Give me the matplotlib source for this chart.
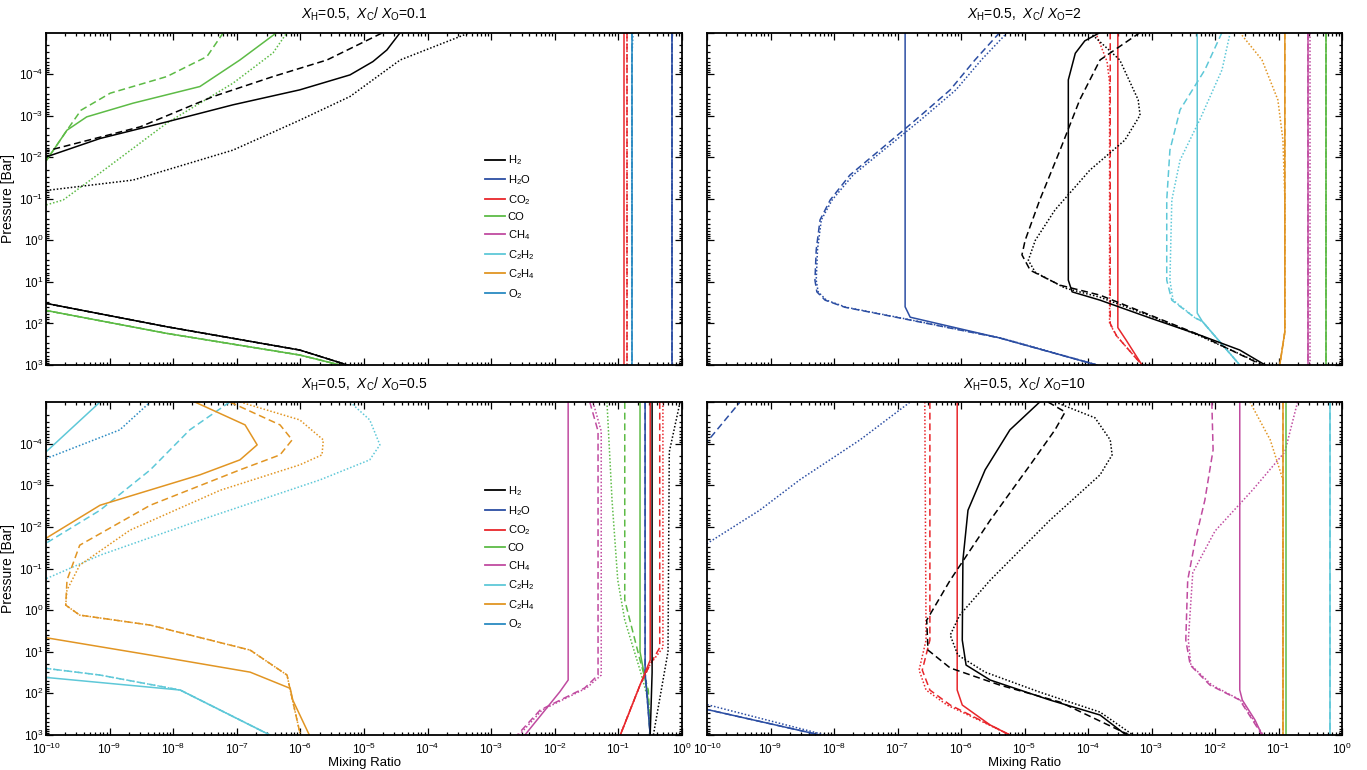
import numpy as np
import matplotlib
matplotlib.use('Agg')
import matplotlib.pyplot as plt
from matplotlib.ticker import LogLocator, NullFormatter, FixedLocator

plt.rcParams['font.family'] = ['Liberation Sans', 'DejaVu Sans']
plt.rcParams['mathtext.fontset'] = 'custom'
plt.rcParams['mathtext.rm'] = 'Liberation Sans'
plt.rcParams['mathtext.it'] = 'Liberation Sans:italic'
plt.rcParams['mathtext.default'] = 'regular'

N = float('nan')

# ---- species ----
species = ['H2', 'H2O', 'CO2', 'CO', 'CH4', 'C2H2', 'C2H4', 'O2']
species_labels = ['H$_2$', 'H$_2$O', 'CO$_2$', 'CO', 'CH$_4$', 'C$_2$H$_2$', 'C$_2$H$_4$', 'O$_2$']
species_colors = ['#000000', '#2c4ea3', '#e8262b', '#5dbb46', '#c04ba0', '#5ec8d8', '#e19523', '#2a8ac2']
panel_titles = [r'$\mathit{X}_{\rm H}$=0.5,  $\mathit{X}_{\rm C}$/ $\mathit{X}_{\rm O}$=0.1',
                r'$\mathit{X}_{\rm H}$=0.5,  $\mathit{X}_{\rm C}$/ $\mathit{X}_{\rm O}$=2',
                r'$\mathit{X}_{\rm H}$=0.5,  $\mathit{X}_{\rm C}$/ $\mathit{X}_{\rm O}$=0.5',
                r'$\mathit{X}_{\rm H}$=0.5,  $\mathit{X}_{\rm C}$/ $\mathit{X}_{\rm O}$=10']
x_tick_exponents = [-10, -9, -8, -7, -6, -5, -4, -3, -2, -1, 0]
y_tick_exponents = [-4, -3, -2, -1, 0, 1, 2, 3]

# All curve data: (log10 mixing ratio list, log10 pressure [bar] list)
# ===== Panel A: C/O = 0.1 =====
a_h2_solid = ([-10.05, -9.99, -9.15, -8.10, -7.06, -6.01, -5.22, -4.86, -4.64, -4.43, N, -10.05, -9.99, -8.10, -6.01, -5.22],
              [-1.99, -2.01, -2.45, -2.85, -3.26, -3.62, -3.98, -4.30, -4.58, -5.0, N, 1.50, 1.52, 2.08, 2.64, 3.02])
a_h2_dash = ([-10.05, -9.94, -8.52, -7.37, -6.43, -5.58, -4.70, N, -10.05, -9.99, -8.10, -6.01, -5.22],
             [-2.15, -2.17, -2.73, -3.46, -3.94, -4.34, -5.0, N, 1.50, 1.52, 2.08, 2.64, 3.02])
a_h2_dot = ([-10.05, -9.94, -8.63, -7.06, -6.01, -5.22, -4.43, -3.33, N, -10.05, -9.99, -8.10, -6.01, -5.22],
            [-1.19, -1.21, -1.45, -2.17, -2.89, -3.46, -4.34, -5.0, N, 1.50, 1.52, 2.08, 2.64, 3.02])
a_co_solid = ([-10.05, -9.99, -9.67, -9.36, -8.63, -7.58, -6.95, -6.37, N, -10.05, -9.99, -8.10, -6.01, -5.27],
              [-1.90, -1.93, -2.65, -2.97, -3.30, -3.70, -4.34, -5.0, N, 1.67, 1.69, 2.24, 2.76, 3.04])
a_co_dash = ([-10.05, -9.99, -9.67, -9.45, -8.99, -8.10, -7.47, -7.21, N, -10.05, -9.99, -8.10, -6.01, -5.27],
             [-1.90, -1.93, -2.65, -3.13, -3.54, -3.94, -4.42, -5.0, N, 1.67, 1.69, 2.24, 2.76, 3.04])
a_co_dot = ([-10.05, -10.0, -9.73, -9.15, -8.10, -7.06, -6.43, -6.21, N, -10.05, -9.99, -8.10, -6.01, -5.27],
            [-0.84, -0.85, -0.97, -1.62, -2.82, -3.78, -4.51, -5.0, N, 1.67, 1.69, 2.24, 2.76, 3.04])
a_co2_solid = ([-0.91, -0.91], [-5.0, 3.0])
a_co2_dash = ([-0.87, -0.87], [-5.0, 3.0])
a_co2_dot = ([-0.87, -0.87], [-5.0, 3.0])
a_h2o_all = ([-0.16, -0.16], [-5.0, 3.0])
a_o2_solid = ([-0.79, -0.79], [-5.0, 3.0])
a_o2_dot = ([-0.77, -0.79, -0.79], [-5.0, -4.3, 3.0])

# ===== Panel B: C/O = 2 =====
b_h2o_solid = ([-6.88, -6.88, -6.80, -5.39, -3.86], [-5.0, 1.60, 1.85, 2.35, 3.0])
b_h2o_dash = ([-5.39, -5.78, -6.17, -6.72, -7.28, -7.75, -8.06, -8.22, -8.28, -8.30, -8.27, -8.14, -7.83, -6.96, -5.39, -3.86],
              [-5.0, -4.34, -3.62, -2.89, -2.17, -1.57, -0.97, -0.49, 0.23, 0.96, 1.24, 1.44, 1.61, 1.87, 2.35, 3.0])
b_h2o_dot = ([-5.27, -5.68, -6.08, -6.64, -7.22, -7.70, -8.03, -8.20, -8.26, -8.28, -8.25, -8.12, -7.81, -6.94, -5.37, -3.85],
             [-5.0, -4.34, -3.62, -2.89, -2.17, -1.57, -0.97, -0.49, 0.23, 0.96, 1.24, 1.44, 1.61, 1.87, 2.35, 3.0])
b_h2_solid = ([-3.81, -4.05, -4.20, -4.31, -4.31, -4.25, -3.81, -3.02, -2.24, -1.61, -1.21],
              [-5.0, -4.80, -4.50, -3.86, 0.96, 1.24, 1.44, 1.87, 2.28, 2.64, 3.0])
b_h2_dash = ([-3.18, -3.81, -4.13, -4.44, -4.76, -4.99, -5.04, -4.91, -4.44, -3.81, -3.02, -2.24, -1.26],
             [-5.0, -4.34, -3.38, -2.17, -0.97, 0.0, 0.35, 0.72, 1.08, 1.32, 1.80, 2.28, 3.0])
b_h2_dot = ([-3.97, -3.50, -3.21, -3.18, -3.42, -3.97, -4.52, -4.83, -4.94, -4.83, -4.36, -3.81, -3.02, -2.24, -1.23],
            [-5.0, -4.34, -3.38, -3.01, -2.41, -1.69, -0.73, 0.0, 0.48, 0.77, 1.15, 1.37, 1.82, 2.30, 3.0])
b_co2_solid = ([-3.53, -3.53, -3.40, -3.15], [-5.0, 2.1, 2.4, 3.0])
b_co2_dash = ([-3.65, -3.65, -3.55, -3.15], [-5.0, 2.0, 2.3, 3.0])
b_co2_dot = ([-3.88, -3.70, -3.66, -3.66, -3.55, -3.15], [-5.0, -4.3, -3.8, 2.0, 2.3, 3.0])
b_c2h2_solid = ([-2.28, -2.28, -2.20, -1.61], [-5.0, 1.75, 1.95, 3.0])
b_c2h2_dash = ([-1.89, -2.16, -2.55, -2.71, -2.76, -2.76, -2.68, -2.31, -2.20, -1.61],
               [-5.0, -4.10, -3.14, -2.17, -0.97, 0.96, 1.44, 1.87, 1.95, 3.0])
b_c2h2_dot = ([-1.76, -1.89, -2.24, -2.55, -2.68, -2.71, -2.66, -2.31, -2.20, -1.61],
              [-5.0, -4.10, -2.90, -1.93, -0.97, 0.96, 1.44, 1.87, 1.95, 3.0])
b_c2h4_solid = ([-0.90, -0.90, -0.98], [-5.0, 2.2, 3.0])
b_c2h4_dot = ([-1.61, -1.26, -1.01, -0.93, -0.90, -0.90, -0.98], [-5.0, -4.34, -3.38, -2.41, -1.0, 2.2, 3.0])
b_ch4_solid = ([-0.535, -0.535], [-5.0, 3.0])
b_ch4_dot = ([-0.50, -0.50], [-5.0, 3.0])
b_co_all = ([-0.25, -0.25], [-5.0, 3.0])

# ===== Panel C: C/O = 0.5 =====
c_c2h2_solid = ([-9.15, -10.05, N, -10.05, -7.89, -6.48], [-5.0, -3.73, N, 1.61, 1.92, 3.0])
c_c2h2_dash = ([-7.11, -7.74, -8.36, -9.15, -10.05, N, -10.05, -9.15, -7.89, -6.48],
               [-5.0, -4.33, -3.37, -2.40, -1.56, N, 1.39, 1.56, 1.92, 3.0])
c_c2h2_dot = ([-5.22, -4.91, -4.75, -4.91, -5.69, -7.58, -9.15, -10.05, N, -10.05, -9.15, -7.89, -6.48],
              [-5.0, -4.57, -3.97, -3.61, -3.13, -2.16, -1.32, -0.72, N, 1.39, 1.56, 1.92, 3.0])
c_c2h4_solid = ([-7.66, -6.87, -6.68, -6.95, -7.58, -9.15, -10.05, N, -10.05, -8.36, -6.79, -6.16, -6.12, -5.86],
                [-5.0, -4.45, -3.97, -3.61, -3.25, -2.52, -1.68, N, 0.65, 1.08, 1.49, 1.88, 2.16, 3.0])
c_c2h4_dash = ([-7.11, -6.32, -6.13, -6.32, -6.95, -8.36, -9.47, -9.67, -9.69, -9.47, -8.36, -6.79, -6.21, -6.16, -6.0],
               [-5.0, -4.45, -4.09, -3.73, -3.37, -2.52, -1.56, -0.72, -0.12, 0.12, 0.36, 0.96, 1.56, 1.92, 3.0])
c_c2h4_dot = ([-6.95, -6.01, -5.64, -5.66, -6.01, -7.26, -8.68, -9.47, -9.67, -9.69, -9.47, -8.36, -6.79, -6.21, -6.16, -6.0],
              [-5.0, -4.57, -4.09, -3.73, -3.49, -2.88, -1.92, -1.08, -0.48, -0.12, 0.12, 0.36, 0.96, 1.56, 1.92, 3.0])
c_ch4_solid = ([-1.79, -1.79, -1.92, -2.47], [-5.0, 1.68, 1.96, 3.0])
c_ch4_dash = ([-1.45, -1.32, -1.32, -1.53, -2.23, -2.59], [-5.0, -4.3, 1.56, 1.87, 2.40, 3.0])
c_ch4_dot = ([-1.40, -1.27, -1.27, -1.50, -2.20, -2.56], [-5.0, -4.3, 1.56, 1.87, 2.40, 3.0])
c_co_solid = ([-0.66, -0.66, -0.55, -0.50], [-5.0, 1.0, 1.9, 3.0])
c_co_dash = ([-0.90, -0.90, -0.66, -0.53, -0.50], [-5.0, -0.24, 1.20, 1.92, 3.0])
c_co_dot = ([-1.18, -1.10, -1.01, -0.90, -0.66, -0.53, -0.50], [-5.0, -2.64, -0.72, 0.24, 1.44, 2.16, 3.0])
c_co2_solid = ([-0.50, -0.50, -0.66, -0.97], [-5.0, 1.20, 1.80, 3.0])
c_co2_dash = ([-0.35, -0.35, -0.50, -0.66, -0.97], [-5.0, 0.9, 1.3, 1.80, 3.0])
c_co2_dot = ([-0.30, -0.30, -0.50, -0.66, -0.97], [-5.0, 0.9, 1.3, 1.80, 3.0])
c_h2o_all = ([-0.58, -0.58, -0.50], [-5.0, 1.5, 3.0])
c_h2_solid = ([-0.47, -0.47, -0.50], [-5.0, 1.5, 3.0])
c_h2_dot = ([-0.03, -0.20, -0.22, -0.45], [-5.0, -3.8, 1.0, 3.0])
c_o2_dot = ([-10.05, -8.84, -8.36], [-3.61, -4.33, -5.0])

# ===== Panel D: C/O = 10 =====
d_h2o_solid = ([-10.05, -8.22], [2.37, 3.0])
d_h2o_dash = ([-10.05, -9.48, N, -10.05, -8.22], [-3.95, -5.0, N, 2.37, 3.0])
d_h2o_dot = ([-10.05, -9.17, -8.54, -7.59, -6.80, N, -10.05, -8.14], [-1.55, -2.40, -3.13, -4.09, -5.0, N, 2.25, 3.0])
d_co2_solid = ([-6.06, -6.06, -5.98, -5.54, -5.23], [-5.0, 1.92, 2.28, 2.76, 3.0])
d_co2_dash = ([-6.49, -6.49, -6.61, -6.49, -6.17, -5.70, -5.23], [-5.0, 0.72, 1.44, 1.92, 2.28, 2.64, 3.0])
d_co2_dot = ([-6.57, -6.55, -6.66, -6.55, -6.22, -5.72, -5.23], [-5.0, 0.72, 1.44, 1.92, 2.28, 2.64, 3.0])
d_h2_solid = ([-4.76, -5.23, -5.62, -5.89, -5.97, -5.98, -5.92, -5.54, -4.60, -3.81, -3.40],
              [-5.0, -4.33, -3.37, -2.40, -1.20, 0.72, 1.32, 1.68, 2.16, 2.52, 3.0])
d_h2_dash = ([-4.63, -4.36, -4.52, -4.91, -5.54, -6.17, -6.54, -6.52, -6.17, -5.39, -4.44, -3.35],
             [-5.0, -4.76, -4.33, -3.49, -2.16, -0.72, 0.24, 0.96, 1.39, 1.80, 2.21, 3.0])
d_h2_dot = ([-4.52, -3.89, -3.65, -3.62, -3.81, -4.60, -5.54, -6.02, -6.17, -6.05, -5.62, -4.76, -3.81, -3.29],
            [-5.0, -4.62, -4.09, -3.73, -3.25, -2.16, -0.72, 0.12, 0.60, 1.08, 1.49, 1.97, 2.45, 3.0])
d_ch4_solid = ([-1.61, -1.61, -1.57, -1.37, -1.26], [-5.0, 1.92, 2.16, 2.64, 3.0])
d_ch4_dash = ([-2.05, -2.03, -2.16, -2.31, -2.43, -2.46, -2.39, -2.08, -1.61, -1.26],
              [-5.0, -3.85, -2.64, -1.68, -0.72, 0.72, 1.32, 1.80, 2.16, 3.0])
d_ch4_dot = ([-0.70, -0.90, -1.40, -2.00, -2.35, -2.42, -2.38, -2.05, -1.60, -1.24],
             [-5.0, -3.8, -2.9, -1.9, -0.9, 0.72, 1.32, 1.80, 2.16, 3.0])
d_c2h4_solid = ([-0.93, -0.93], [-5.0, 3.0])
d_c2h4_dot = ([-1.45, -1.13, -0.93, -0.93], [-5.0, -4.09, -3.13, 3.0])
d_co_all = ([-0.88, -0.88], [-5.0, 3.0])
d_c2h2_all = ([-0.19, -0.19], [-5.0, 3.0])

SOLID, DASH, DOT = '-', (0, (4.5, 2.5)), (0, (1, 1.3))

panels = [
    [('CO2', SOLID, a_co2_solid), ('CO2', DASH, a_co2_dash), ('CO2', DOT, a_co2_dot),
     ('O2', SOLID, a_o2_solid), ('O2', DASH, a_o2_solid), ('O2', DOT, a_o2_dot),
     ('H2O', SOLID, a_h2o_all), ('H2O', DASH, a_h2o_all), ('H2O', DOT, a_h2o_all),
     ('CO', SOLID, a_co_solid), ('CO', DASH, a_co_dash), ('CO', DOT, a_co_dot),
     ('H2', SOLID, a_h2_solid), ('H2', DASH, a_h2_dash), ('H2', DOT, a_h2_dot)],
    [('H2O', SOLID, b_h2o_solid), ('H2O', DASH, b_h2o_dash), ('H2O', DOT, b_h2o_dot),
     ('CO2', SOLID, b_co2_solid), ('CO2', DASH, b_co2_dash), ('CO2', DOT, b_co2_dot),
     ('C2H2', SOLID, b_c2h2_solid), ('C2H2', DASH, b_c2h2_dash), ('C2H2', DOT, b_c2h2_dot),
     ('C2H4', SOLID, b_c2h4_solid), ('C2H4', DASH, b_c2h4_solid), ('C2H4', DOT, b_c2h4_dot),
     ('CH4', SOLID, b_ch4_solid), ('CH4', DASH, b_ch4_solid), ('CH4', DOT, b_ch4_dot),
     ('CO', SOLID, b_co_all), ('CO', DASH, b_co_all), ('CO', DOT, b_co_all),
     ('H2', SOLID, b_h2_solid), ('H2', DASH, b_h2_dash), ('H2', DOT, b_h2_dot)],
    [('C2H2', SOLID, c_c2h2_solid), ('C2H2', DASH, c_c2h2_dash), ('C2H2', DOT, c_c2h2_dot),
     ('C2H4', SOLID, c_c2h4_solid), ('C2H4', DASH, c_c2h4_dash), ('C2H4', DOT, c_c2h4_dot),
     ('O2', DOT, c_o2_dot),
     ('CH4', SOLID, c_ch4_solid), ('CH4', DASH, c_ch4_dash), ('CH4', DOT, c_ch4_dot),
     ('CO', SOLID, c_co_solid), ('CO', DASH, c_co_dash), ('CO', DOT, c_co_dot),
     ('H2O', SOLID, c_h2o_all), ('H2O', DASH, c_h2o_all),
     ('CO2', SOLID, c_co2_solid), ('CO2', DASH, c_co2_dash), ('CO2', DOT, c_co2_dot),
     ('H2', SOLID, c_h2_solid), ('H2', DOT, c_h2_dot)],
    [('H2O', SOLID, d_h2o_solid), ('H2O', DASH, d_h2o_dash), ('H2O', DOT, d_h2o_dot),
     ('CO2', SOLID, d_co2_solid), ('CO2', DASH, d_co2_dash), ('CO2', DOT, d_co2_dot),
     ('H2', SOLID, d_h2_solid), ('H2', DASH, d_h2_dash), ('H2', DOT, d_h2_dot),
     ('CH4', SOLID, d_ch4_solid), ('CH4', DASH, d_ch4_dash), ('CH4', DOT, d_ch4_dot),
     ('C2H4', SOLID, d_c2h4_solid), ('C2H4', DASH, d_c2h4_solid), ('C2H4', DOT, d_c2h4_dot),
     ('CO', SOLID, d_co_all), ('C2H2', SOLID, d_c2h2_all), ('C2H2', DASH, d_c2h2_all)],
]

color_of = dict(zip(species, species_colors))

fig = plt.figure(figsize=(13.67, 7.70), dpi=100)
W, H = 1367.0, 770.0
boxes = [(46, 32.5, 682, 365), (707, 32.5, 1342, 365), (46, 402, 682, 735), (707, 402, 1342, 735)]
legend_anchor = [(0.684, 0.649), None, (0.684, 0.766), None]

for i, (x0, y0, x1, y1) in enumerate(boxes):
    ax = fig.add_axes([x0 / W, 1 - y1 / H, (x1 - x0) / W, (y1 - y0) / H])
    for sp, ls, (lx, lp) in panels[i]:
        ax.plot(10.0 ** np.array(lx, dtype=float), 10.0 ** np.array(lp, dtype=float),
                color=color_of[sp], ls=ls, lw=1.1)
    ax.set_xscale('log')
    ax.set_yscale('log')
    ax.set_xlim(1e-10, 1e0)
    ax.set_ylim(1e3, 1e-5)
    ax.xaxis.set_major_locator(FixedLocator([10.0 ** e for e in x_tick_exponents]))
    ax.xaxis.set_minor_locator(LogLocator(base=10, subs=np.arange(2, 10), numticks=200))
    ax.yaxis.set_major_locator(FixedLocator([10.0 ** e for e in [-5] + y_tick_exponents]))
    ax.yaxis.set_minor_locator(LogLocator(base=10, subs=np.arange(2, 10), numticks=200))
    ax.yaxis.set_minor_formatter(NullFormatter())
    ax.xaxis.set_minor_formatter(NullFormatter())
    ax.tick_params(which='both', direction='in', top=True, right=True, labelsize=8.5, width=0.9)
    ax.tick_params(axis='y', which='both', pad=2)
    ax.tick_params(axis='x', which='both', pad=5)
    ax.tick_params(which='major', length=5)
    ax.tick_params(which='minor', length=2.5)
    for s in ax.spines.values():
        s.set_linewidth(1.3)
    if i in (0, 2):
        ax.set_yticks([10.0 ** e for e in y_tick_exponents])
        ax.set_ylabel('Pressure [Bar]', fontsize=10)
        ax.yaxis.set_label_coords(-0.048, 0.5)
    else:
        ax.tick_params(axis='y', which='both', labelleft=False)
    if i in (2, 3):
        ax.set_xlabel('Mixing Ratio', fontsize=9.5)
        ax.xaxis.set_label_coords(0.5, -0.066)
    else:
        ax.tick_params(axis='x', which='both', labelbottom=False)
    ax.set_title(panel_titles[i], fontsize=10, pad=10)
    if legend_anchor[i] is not None:
        handles = [plt.Line2D([], [], color=c, lw=1.3) for c in species_colors]
        ax.legend(handles, species_labels, loc='upper left', bbox_to_anchor=legend_anchor[i],
                  frameon=False, fontsize=8, handlelength=1.8, handletextpad=0.2,
                  labelspacing=0.52, borderaxespad=0)

fig.savefig('out.png', dpi=100)
